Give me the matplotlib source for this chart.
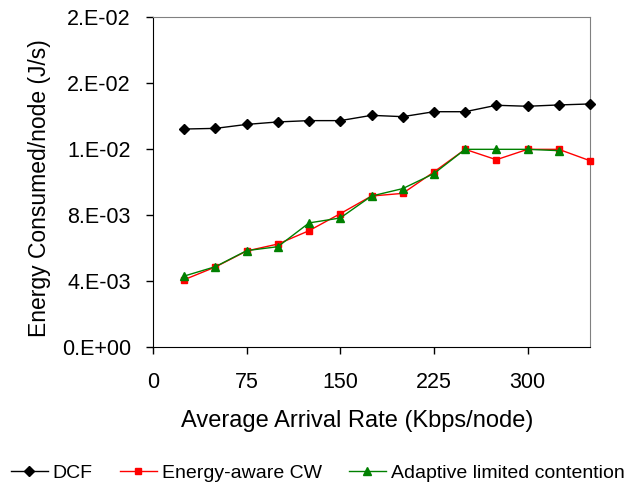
import matplotlib
matplotlib.use("Agg")
import matplotlib.pyplot as plt
from matplotlib.ticker import FixedLocator, FixedFormatter

plt.rcParams["font.family"] = ["Liberation Sans", "DejaVu Sans"]

rate = [25, 50, 75, 100, 125, 150, 175, 200, 225, 250, 275, 300, 325, 350]
dcf = [0.01321, 0.01325, 0.01349, 0.01364, 0.01372, 0.01372, 0.01404,
       0.01396, 0.01426, 0.01426, 0.01465, 0.01459, 0.01467, 0.01473]
energy_cw = [0.00408, 0.00485, 0.00582, 0.00624, 0.00705, 0.00808, 0.00915,
             0.00931, 0.01061, 0.01198, 0.01135, 0.01198, 0.01198, 0.01129]
adaptive_rate = rate[:13]
adaptive = [0.00430, 0.00487, 0.00584, 0.00608, 0.00752, 0.00782, 0.00915,
            0.00960, 0.01051, 0.01198, 0.01198, 0.01198, 0.01190]

y_ticks = [0.0, 0.004, 0.008, 0.012, 0.016, 0.020]
y_tick_labels = ["0.E+00", "4.E-03", "8.E-03", "1.E-02", "2.E-02", "2.E-02"]
x_ticks = [0, 75, 150, 225, 300]

fig = plt.figure(figsize=(6.28, 4.87), dpi=100)
ax = fig.add_axes([153 / 628, 1 - 347 / 487, 437 / 628, 330 / 487])

ax.plot(rate, dcf, color="black", lw=1, marker="D", ms=5.5, label="DCF",
        clip_on=False, zorder=3)
ax.plot(rate, energy_cw, color="red", lw=1, marker="s", ms=5, label="Energy-aware CW",
        clip_on=False, zorder=3)
ax.plot(adaptive_rate, adaptive, color="green", lw=1, marker="^", ms=6,
        label="Adaptive limited contention", clip_on=False, zorder=4)

ax.set_xlim(0, 350)
ax.set_ylim(0, 0.02)
ax.xaxis.set_major_locator(FixedLocator(x_ticks))
ax.yaxis.set_major_locator(FixedLocator(y_ticks))
ax.yaxis.set_major_formatter(FixedFormatter(y_tick_labels))
ax.tick_params(axis="both", direction="out", length=5, width=1, labelsize=15.5)
ax.tick_params(axis="x", pad=13)
ax.tick_params(axis="y", pad=11)

for side in ["left", "bottom"]:
    ax.spines[side].set_color("black")
for side in ["top", "right"]:
    ax.spines[side].set_color("#808080")

ax.set_xlabel("Average Arrival Rate (Kbps/node)", fontsize=17, va="center")
ax.xaxis.set_label_coords(0.468, -0.224)
ax.set_ylabel("Energy Consumed/node (J/s)", fontsize=16.5, va="center")
ax.yaxis.set_label_coords(-0.259, 0.48)

fig.legend(loc="center", bbox_to_anchor=(0.506, 1 - 473 / 487), ncol=3,
           frameon=False, fontsize=14, handlelength=1.9, handletextpad=0.25,
           columnspacing=1.4, borderaxespad=0, borderpad=0)

fig.savefig("out.png", dpi=100)
